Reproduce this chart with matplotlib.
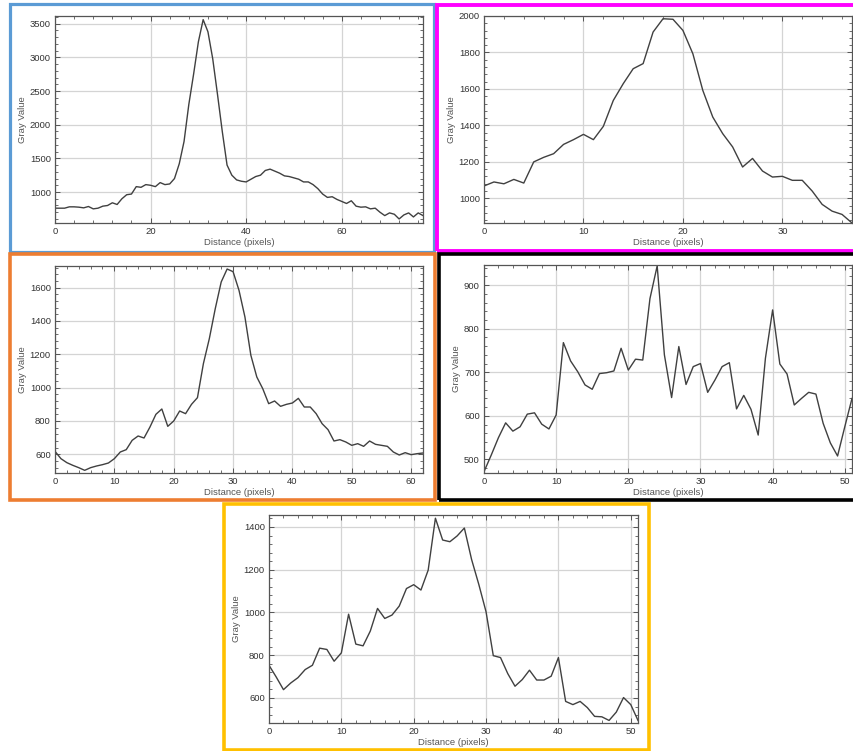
import matplotlib
matplotlib.use("Agg")
import matplotlib.pyplot as plt
from matplotlib.patches import Rectangle
from matplotlib.ticker import MultipleLocator

plt.rcParams['font.family'] = ['Liberation Sans', 'DejaVu Sans']

# gray value profiles, one value per pixel of distance
blue_vals = [760, 760, 760, 780, 780, 775, 765, 785, 750, 760, 790, 800, 840, 815, 900,
             960, 970, 1080, 1070, 1110, 1100, 1080, 1140, 1110, 1120, 1200, 1420, 1750,
             2300, 2750, 3230, 3560, 3380, 2980, 2450, 1900, 1400, 1250, 1180, 1160, 1150,
             1190, 1230, 1250, 1320, 1340, 1310, 1280, 1240, 1230, 1210, 1190, 1150, 1150,
             1110, 1050, 970, 920, 930, 890, 860, 830, 870, 790, 775, 780, 750, 760, 700,
             650, 690, 670, 600, 660, 690, 630, 690, 650]
magenta_vals = [1068, 1090, 1080, 1104, 1084, 1200, 1225, 1245, 1296, 1322, 1351, 1322,
                1395, 1537, 1629, 1711, 1739, 1912, 1985, 1982, 1921, 1793, 1592, 1446,
                1355, 1282, 1172, 1219, 1150, 1117, 1121, 1099, 1099, 1040, 967, 930, 912, 865]
orange_vals = [618, 574, 550, 534, 520, 504, 520, 530, 538, 548, 574, 614, 628, 684, 710,
               698, 764, 840, 872, 768, 800, 860, 844, 900, 940, 1144, 1294, 1474, 1634,
               1712, 1696, 1584, 1424, 1194, 1064, 994, 904, 920, 888, 900, 908, 936, 884,
               884, 844, 784, 748, 680, 688, 674, 654, 664, 648, 680, 660, 654, 648, 614,
               596, 610, 598, 604, 608]
black_vals = [472, 510, 550, 584, 565, 575, 604, 607, 581, 570, 602, 768, 726, 701, 671,
              661, 697, 699, 703, 755, 705, 730, 728, 869, 944, 740, 642, 759, 672, 713,
              720, 654, 682, 713, 722, 616, 647, 615, 556, 732, 843, 719, 696, 625, 640,
              654, 650, 583, 538, 508, 575, 640]
yellow_vals = [753, 698, 639, 670, 695, 733, 753, 833, 827, 772, 811, 992, 852, 844, 913,
               1019, 972, 988, 1030, 1112, 1130, 1105, 1198, 1441, 1339, 1331, 1358, 1395,
               1248, 1131, 1003, 798, 789, 714, 655, 686, 730, 684, 684, 702, 789, 584, 569,
               584, 555, 514, 512, 495, 534, 602, 569, 495]

W, H = 854, 751
fig = plt.figure(figsize=(W / 100, H / 100), dpi=100)
fig.patch.set_facecolor("white")


def px_axes(left, top, right, bottom):
    return fig.add_axes([left / W, 1 - bottom / H, (right - left) / W, (bottom - top) / H])


def px_box(x0, y0, x1, y1, color, lw=2.3):
    rect = Rectangle((x0 / W, 1 - y1 / H), (x1 - x0) / W, (y1 - y0) / H,
                     transform=fig.transFigure, fill=False, edgecolor=color, linewidth=lw)
    fig.add_artist(rect)


def profile(ax, vals, ymin, ymax, xmaj, xmin, ymaj, ymin_step):
    xs = list(range(len(vals)))
    ax.plot(xs, vals, color="#404040", linewidth=1.0)
    ax.set_xlim(0, len(vals) - 1)
    ax.set_ylim(ymin, ymax)
    ax.xaxis.set_major_locator(MultipleLocator(xmaj))
    ax.xaxis.set_minor_locator(MultipleLocator(xmin))
    ax.yaxis.set_major_locator(MultipleLocator(ymaj))
    ax.yaxis.set_minor_locator(MultipleLocator(ymin_step))
    ax.grid(True, which="major", color="#d4d4d4", linewidth=0.9)
    ax.set_axisbelow(True)
    ax.tick_params(which="both", direction="in", top=True, right=True,
                   labelsize=6.8, labelcolor="#333333", color="#555555", pad=3)
    ax.tick_params(which="major", length=3.5, width=0.7)
    ax.tick_params(which="minor", length=2, width=0.6)
    for s in ax.spines.values():
        s.set_color("#555555")
        s.set_linewidth(0.9)
    ax.set_xlabel("Distance (pixels)", fontsize=6.8, color="#555555", labelpad=1)
    ax.set_ylabel("Gray Value", fontsize=6.8, color="#555555", labelpad=2)


ax1 = px_axes(55, 16, 423, 223)
profile(ax1, blue_vals, 540, 3614, 20, 4, 500, 100)
ax2 = px_axes(484, 16, 852, 223)
profile(ax2, magenta_vals, 865, 2000, 10, 2, 200, 40)
ax3 = px_axes(55, 266, 423, 473)
profile(ax3, orange_vals, 488, 1730, 10, 2, 200, 40)
ax4 = px_axes(484, 265, 852, 473)
profile(ax4, black_vals, 469, 946, 10, 2, 100, 20)
ax5 = px_axes(269, 515, 638, 723)
profile(ax5, yellow_vals, 483, 1456, 10, 2, 200, 40)

# coloured frames round each panel
px_box(10.5, 3.5, 434.5, 251.5, "#5B9BD5")
px_box(437.5, 4.5, 858, 251, "#FF00FF", lw=2.8)
px_box(10.5, 254.5, 435, 499.5, "#ED7D31", lw=2.6)
px_box(439.5, 254.5, 858, 499.5, "#000000", lw=2.6)
px_box(224.5, 503.5, 649.5, 749.5, "#FFC000", lw=2.6)

fig.savefig("out.png", dpi=100, facecolor="white")
